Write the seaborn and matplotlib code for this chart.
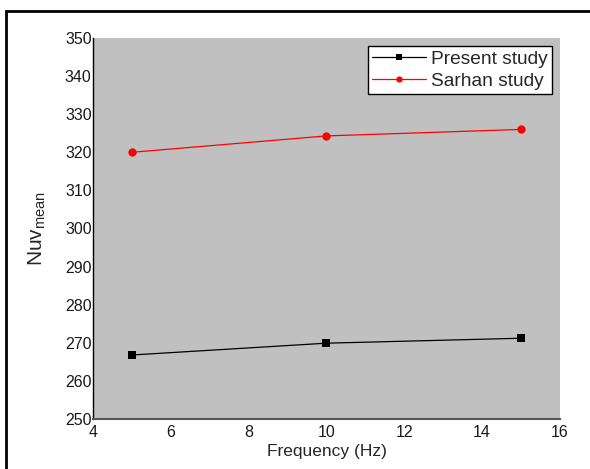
import matplotlib
matplotlib.use("Agg")
import matplotlib.pyplot as plt
import seaborn as sns
import pandas as pd
from matplotlib.patches import Rectangle

# Mean vibration Nusselt number versus excitation frequency
frequency = [5, 10, 15]
present_study = [266.8, 269.9, 271.2]
sarhan_study = [320.0, 324.3, 326.0]
series_names = ["Present study", "Sarhan study"]
x_ticks = [4, 6, 8, 10, 12, 14, 16]
y_ticks = [250, 260, 270, 280, 290, 300, 310, 320, 330, 340, 350]

df = pd.DataFrame({
    "Frequency": frequency * 2,
    "Nuv": present_study + sarhan_study,
    "Study": [series_names[0]] * len(frequency) + [series_names[1]] * len(frequency),
})

sns.set_theme(style="white")
plt.rcParams["font.family"] = ["Liberation Sans", "DejaVu Sans"]
plt.rcParams["mathtext.fontset"] = "custom"
plt.rcParams["mathtext.rm"] = "Liberation Sans"

fig = plt.figure(figsize=(5.9, 4.69), dpi=100)
ax = fig.add_axes([0.1576, 0.1066, 0.7915, 0.8124])
ax.set_facecolor("#c0c0c0")

sns.lineplot(
    data=df, x="Frequency", y="Nuv", hue="Study", style="Study",
    palette={series_names[0]: "black", series_names[1]: "red"},
    markers={series_names[0]: "s", series_names[1]: "o"},
    dashes=False, linewidth=0.9, markersize=6.0, markeredgewidth=0,
    ax=ax,
)

ax.set_xlim(4, 16)
ax.set_ylim(250, 350)
ax.set_xticks(x_ticks)
ax.set_yticks(y_ticks)
ax.tick_params(axis="y", labelsize=11.5, length=0, pad=1, colors="#1a1a1a")
ax.tick_params(axis="x", labelsize=11.5, length=0, pad=4, colors="#1a1a1a")
ax.set_xlabel("Frequency (Hz)", fontsize=12.5, labelpad=3)
ax.set_ylabel(r"Nuv$_{\mathrm{mean}}$", fontsize=15, labelpad=12)

for side in ["top", "right"]:
    ax.spines[side].set_visible(False)
ax.spines["left"].set_color("black")
ax.spines["left"].set_linewidth(1.0)
ax.spines["bottom"].set_color("#555555")
ax.spines["bottom"].set_linewidth(1.5)

leg = ax.legend(
    loc="upper right", bbox_to_anchor=(0.983, 0.978), fontsize=13.8,
    frameon=True, fancybox=False, framealpha=1, edgecolor="black",
    handlelength=2.8, handletextpad=0.3, borderpad=0.2, labelspacing=0.25,
    borderaxespad=0.0, markerscale=0.75,
)
leg.get_frame().set_linewidth(1.0)

# Outer frame around the figure
fig.patches.append(Rectangle((6 / 590, -0.1), 1.2, 1 - 11 / 469 + 0.1,
                             transform=fig.transFigure, fill=False,
                             edgecolor="black", linewidth=2.0))

fig.savefig("out.png", dpi=100)
